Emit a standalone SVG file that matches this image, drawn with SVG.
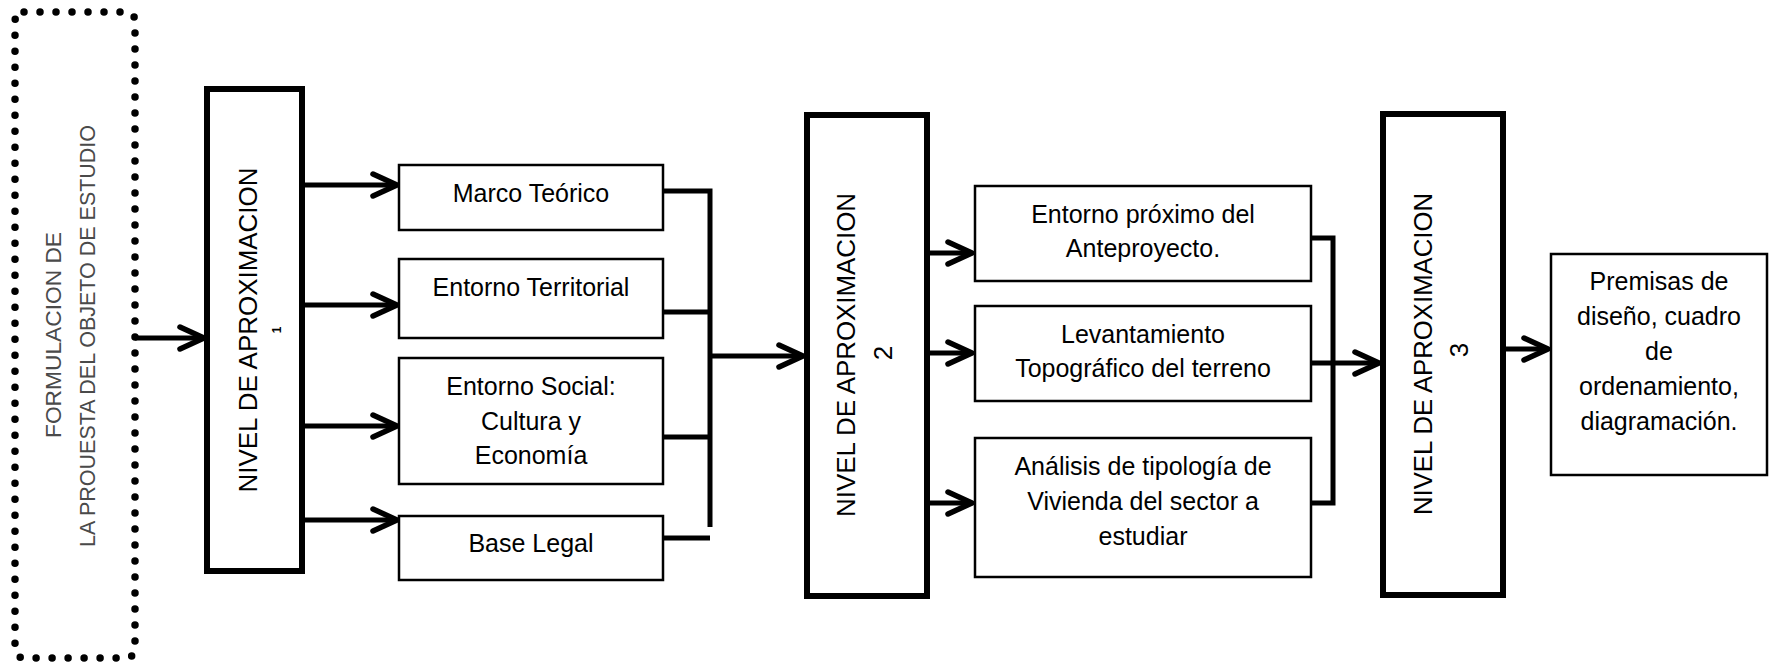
<svg xmlns="http://www.w3.org/2000/svg" width="1770" height="665" viewBox="0 0 1770 665">
<style>
.lvl{fill:#fff;stroke:#000;stroke-width:6}
.box{fill:#fff;stroke:#000;stroke-width:2.5}
.t{font-family:"Liberation Sans",Arial,sans-serif;font-size:25px;fill:#000;text-anchor:middle}
.v{font-family:"Liberation Sans",Arial,sans-serif;font-size:26px;fill:#000;text-anchor:middle}
.g{font-family:"Liberation Sans",Arial,sans-serif;font-size:22px;fill:#4a4a4a;text-anchor:middle}
.c{fill:none;stroke:#000;stroke-width:5}
.a{fill:none;stroke:#000;stroke-width:5;marker-end:url(#arr)}
</style>
<defs>
<marker id="arr" markerUnits="userSpaceOnUse" markerWidth="34" markerHeight="34" viewBox="0 0 34 34" refX="29" refY="17" orient="auto" overflow="visible">
<path d="M5,6 L29,17 L5,28" fill="none" stroke="#000" stroke-width="5.5" stroke-linecap="round" stroke-linejoin="round"/>
</marker>
</defs>
<g id="origen">
<rect x="15" y="12" width="120" height="646" rx="9" fill="none" stroke="#000" stroke-width="7.5" stroke-linecap="round" stroke-dasharray="0 16"/>
<text class="g" transform="translate(61,335) rotate(-90)" textLength="206" lengthAdjust="spacingAndGlyphs">FORMULACION DE</text>
<text class="g" transform="translate(95,336) rotate(-90)" textLength="422" lengthAdjust="spacingAndGlyphs">LA PROUESTA DEL OBJETO DE ESTUDIO</text>
</g>
<g id="nivel1">
<rect class="lvl" x="207" y="89" width="95" height="482"/>
<text class="v" transform="translate(257,330) rotate(-90)" textLength="325" lengthAdjust="spacingAndGlyphs">NIVEL DE APROXIMACION</text>
<text class="v" transform="translate(281,330) rotate(-90)" style="font-size:12px;font-weight:bold">1</text>
</g>
<g id="marco">
<rect class="box" x="399" y="165" width="264" height="65"/>
<text class="t" x="531" y="202">Marco Teórico</text>
</g>
<g id="territorial">
<rect class="box" x="399" y="259" width="264" height="79"/>
<text class="t" x="531" y="296">Entorno Territorial</text>
</g>
<g id="social">
<rect class="box" x="399" y="358" width="264" height="126"/>
<text class="t" x="531" y="395">Entorno Social:</text>
<text class="t" x="531" y="430">Cultura y</text>
<text class="t" x="531" y="464">Economía</text>
</g>
<g id="legal">
<rect class="box" x="399" y="516" width="264" height="64"/>
<text class="t" x="531" y="552">Base Legal</text>
</g>
<g id="nivel2">
<rect class="lvl" x="807" y="115" width="120" height="481"/>
<text class="v" transform="translate(855,355) rotate(-90)" textLength="324" lengthAdjust="spacingAndGlyphs">NIVEL DE APROXIMACION</text>
<text class="v" transform="translate(892,353) rotate(-90)">2</text>
</g>
<g id="entorno-proximo">
<rect class="box" x="975" y="186" width="336" height="95"/>
<text class="t" x="1143" y="223">Entorno próximo del</text>
<text class="t" x="1143" y="257">Anteproyecto.</text>
</g>
<g id="levantamiento">
<rect class="box" x="975" y="306" width="336" height="95"/>
<text class="t" x="1143" y="343">Levantamiento</text>
<text class="t" x="1143" y="377">Topográfico del terreno</text>
</g>
<g id="analisis">
<rect class="box" x="975" y="438" width="336" height="139"/>
<text class="t" x="1143" y="475">Análisis de tipología de</text>
<text class="t" x="1143" y="510">Vivienda del sector a</text>
<text class="t" x="1143" y="545">estudiar</text>
</g>
<g id="nivel3">
<rect class="lvl" x="1383" y="114" width="120" height="481"/>
<text class="v" transform="translate(1432,354) rotate(-90)" textLength="322" lengthAdjust="spacingAndGlyphs">NIVEL DE APROXIMACION</text>
<text class="v" transform="translate(1468,350) rotate(-90)">3</text>
</g>
<g id="premisas">
<rect class="box" x="1551" y="254" width="216" height="221"/>
<text class="t" x="1659" y="290">Premisas de</text>
<text class="t" x="1659" y="325">diseño, cuadro</text>
<text class="t" x="1659" y="360">de</text>
<text class="t" x="1659" y="395">ordenamiento,</text>
<text class="t" x="1659" y="430">diagramación.</text>
</g>
<g id="connectors">
<line class="a" x1="135" y1="338" x2="204" y2="338"/>
<line class="a" x1="303" y1="185" x2="397" y2="185"/>
<line class="a" x1="303" y1="305" x2="397" y2="305"/>
<line class="a" x1="303" y1="426" x2="397" y2="426"/>
<line class="a" x1="303" y1="520" x2="397" y2="520"/>
<polyline class="c" points="663,191 710,191 710,527"/>
<line class="c" x1="663" y1="312" x2="710" y2="312"/>
<line class="c" x1="663" y1="437" x2="710" y2="437"/>
<line class="c" x1="663" y1="538" x2="710" y2="538"/>
<line class="a" x1="708" y1="356" x2="803" y2="356"/>
<line class="a" x1="928" y1="253" x2="972" y2="253"/>
<line class="a" x1="928" y1="353" x2="972" y2="353"/>
<line class="a" x1="928" y1="503" x2="972" y2="503"/>
<polyline class="c" points="1311,238 1333,238 1333,503 1311,503"/>
<line class="a" x1="1311" y1="363" x2="1379" y2="363"/>
<line class="a" x1="1504" y1="349" x2="1548" y2="349"/>
</g>
</svg>
